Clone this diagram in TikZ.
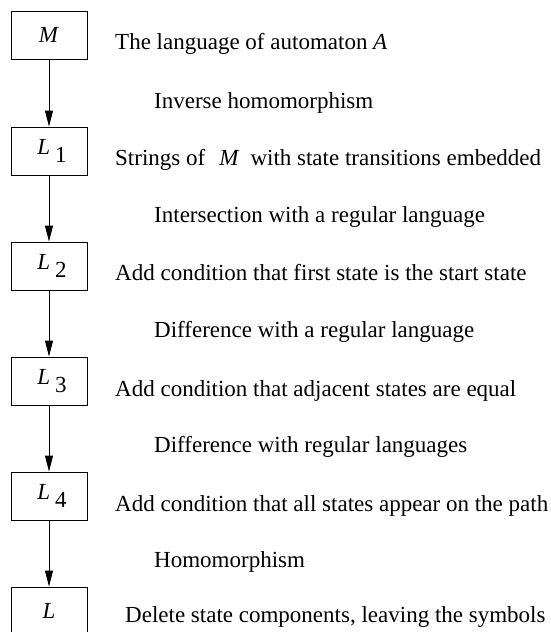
\documentclass[tikz,border=0pt]{standalone}
\usepackage{fontspec}
\setmainfont{Liberation Serif}
\usetikzlibrary{arrows.meta}

\newcommand{\lang}[1]{\hspace{6pt}\textit{L}\hspace{5pt}\raisebox{-7.5pt}{#1}}

\begin{document}
\begin{tikzpicture}[x=1pt, y=-1pt,
    langbox/.style={draw, line width=0.9pt, minimum width=76pt, minimum height=48pt, inner sep=0pt, font=\fontsize{23}{27}\selectfont},
    desc/.style={anchor=base west, inner sep=0pt, font=\fontsize{23}{27}\selectfont},
    arr/.style={line width=0.9pt, -{Triangle[length=16pt, width=8pt]}}]
            \useasboundingbox (0,0) rectangle (551,632);
            \node[langbox] (M)  at (49,35)  {\textit{M}};
            \node[langbox] (L1) at (49,151) {\lang{1}};
            \node[langbox] (L2) at (49,266) {\lang{2}};
            \node[langbox] (L3) at (49,381) {\lang{3}};
            \node[langbox] (L4) at (49,496) {\lang{4}};
            \node[langbox] (L)  at (49,611) {\textit{L}};
            \draw[arr] (M) -- (L1);
            \draw[arr] (L1) -- (L2);
            \draw[arr] (L2) -- (L3);
            \draw[arr] (L3) -- (L4);
            \draw[arr] (L4) -- (L);
            \node[desc] (dM)  at (115,49)  {The language of automaton \textit{A}};
            \node[desc] (dL1) at (115,165) {Strings of\hspace{14pt}\textit{M}\hspace{11pt}with state transitions embedded};
            \node[desc] (dL2) at (115,280) {Add condition that first state is the start state};
            \node[desc] (dL3) at (115,396) {Add condition that adjacent states are equal};
            \node[desc] (dL4) at (115,511) {Add condition that all states appear on the path};
            \node[desc] (dL)  at (125,622) {Delete state components, leaving the symbols};
            \node[desc] (op1) at (154,108) {Inverse homomorphism};
            \node[desc] (op2) at (154,222) {Intersection with a regular language};
            \node[desc] (op3) at (154,337) {Difference with a regular language};
            \node[desc] (op4) at (154,452) {Difference with regular languages};
            \node[desc] (op5) at (154,567) {Homomorphism};
        \end{tikzpicture}
\end{document}
